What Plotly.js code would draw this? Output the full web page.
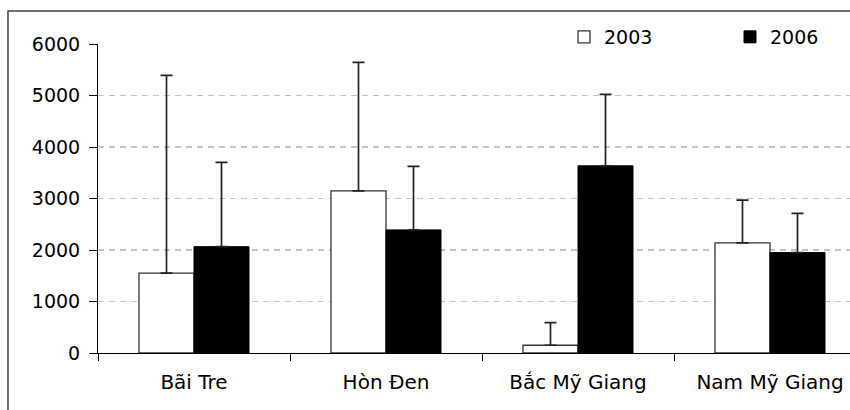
<!DOCTYPE html>
<html>
<head>
<meta charset="utf-8">
<script src="https://cdn.plot.ly/plotly-3.0.1.min.js"></script>
<style>
html,body{margin:0;padding:0;background:#fff;}
#chart{width:850px;height:410px;}
</style>
</head>
<body>
<div id="chart"></div>
<script>
const categories = ["Bãi Tre", "Hòn Đen", "Bắc Mỹ Giang", "Nam Mỹ Giang"];
const seriesNames = ["2003", "2006"];
const values2003 = [1550, 3150, 150, 2140];
const values2006 = [2065, 2390, 3635, 1950];
const errUp2003 = [3840, 2495, 440, 830];
const errUp2006 = [1635, 1235, 1385, 760];
const zeros = [0, 0, 0, 0];
const yTicks = [0, 1000, 2000, 3000, 4000, 5000, 6000];

const FONT = "DejaVu Sans, Liberation Sans, Arial, sans-serif";

function errBars(arr){
  return {type:'data', array:arr, arrayminus:zeros, symmetric:false, visible:true,
          color:'#222', thickness:1.7, width:6};
}

const traces = [
  {type:'bar', name:seriesNames[0], x:categories, y:values2003, legend:'legend',
   marker:{color:'#ffffff', line:{color:'#333333', width:1.3}},
   error_y:errBars(errUp2003)},
  {type:'bar', name:seriesNames[1], x:categories, y:values2006, legend:'legend2',
   marker:{color:'#000000', line:{color:'#000000', width:1}},
   error_y:errBars(errUp2006)}
];

const legendCommon = {orientation:'h', yanchor:'middle', y:1.0227, xanchor:'left',
  bgcolor:'#ffffff', borderwidth:0, itemwidth:30,
  font:{family:FONT, size:19, color:'#000'}};

const layout = {
  width:850, height:410, autosize:false,
  margin:{l:98, r:0, t:44, b:57, pad:0},
  paper_bgcolor:'#ffffff', plot_bgcolor:'#ffffff',
  barmode:'group', bargap:0.427, bargroupgap:0,
  font:{family:FONT, size:19, color:'#000'},
  showlegend:true,
  legend:Object.assign({}, legendCommon, {x:(564 - 98) / 752}),
  legend2:Object.assign({}, legendCommon, {x:(730 - 98) / 752}),
  xaxis:{type:'category', range:[-0.5, 3.4167], fixedrange:true,
         showline:true, linecolor:'#000', linewidth:1,
         ticks:'outside', tickson:'boundaries', ticklen:7, tickwidth:1, tickcolor:'#000',
         ticklabelstandoff:11,
         showgrid:false, zeroline:false,
         tickfont:{family:FONT, size:20, color:'#000'}},
  yaxis:{range:[0, 6000], tickvals:yTicks, ticktext:yTicks.map(String), fixedrange:true,
         showline:true, linecolor:'#000', linewidth:1,
         ticks:'outside', ticklen:8, tickwidth:1, tickcolor:'#000',
         ticklabelstandoff:5,
         showgrid:true, gridcolor:'#c4c4c4', gridwidth:1.5, griddash:'6px,5px',
         zeroline:false,
         tickfont:{family:FONT, size:19, color:'#000'}},
  shapes:[
    {type:'rect', xref:'paper', yref:'paper', x0:-0.1197, x1:1.2, y0:-0.5, y1:1.1068,
     line:{color:'#404040', width:1.5}, fillcolor:'rgba(0,0,0,0)', layer:'above'}
  ]
};

Plotly.newPlot('chart', traces, layout, {displayModeBar:false, staticPlot:true});
</script>
</body>
</html>
